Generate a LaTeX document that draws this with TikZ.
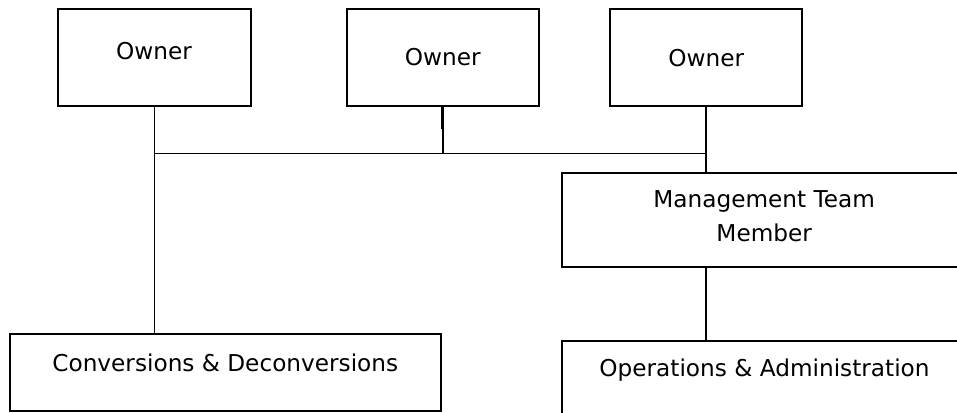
\documentclass[tikz,border=0pt]{standalone}
\usepackage{fontspec}
\setmainfont{DejaVu Sans}
\begin{document}
\begin{tikzpicture}[x=0.75pt,y=-0.75pt,
  box/.style={draw=black,line width=1.5pt,fill=none,inner sep=0pt,rectangle},
  lbl/.style={inner sep=0pt,anchor=base,font=\fontsize{17.4pt}{25pt}\selectfont,align=center},
  conn/.style={draw=black,line width=1.4pt},
  stub/.style={draw=black,line width=2.2pt}]
\useasboundingbox (0,0) rectangle (957,413);
% boxes
\node[box,minimum width=192.4*0.75pt,minimum height=96.7*0.75pt] (o1) at (154.5,57.7) {};
\node[box,minimum width=192.4*0.75pt,minimum height=96.7*0.75pt] (o2) at (442.8,57.7) {};
\node[box,minimum width=192.4*0.75pt,minimum height=96.7*0.75pt] (o3) at (706.2,57.7) {};
\node[box,minimum width=405*0.75pt,minimum height=93.4*0.75pt] (mg) at (764.2,220) {};
\node[box,minimum width=405*0.75pt,minimum height=100*0.75pt] (op) at (764.2,391) {};
\node[box,minimum width=431*0.75pt,minimum height=76.4*0.75pt] (cv) at (225.5,372.5) {};
% labels
\node[lbl] (t1) at (154,60) {Owner};
\node[lbl] (t2) at (442.8,66) {Owner};
\node[lbl] (t3) at (706.2,66.5) {Owner};
\node[lbl] (tm1) at (764.2,207.3) {Management Team};
\node[lbl] (tm2) at (764.2,241.7) {Member};
\node[lbl] (tc) at (225.3,371.7) {Conversions \& Deconversions};
\node[lbl] (to) at (764.5,376.7) {Operations \& Administration};
% connectors
\coordinate (j1) at (o1.south |- 0,153.5);
\coordinate (j2) at (o2.south |- 0,153.5);
\coordinate (j3) at (o3.south |- 0,153.5);
\coordinate (s2) at (o2.south |- 0,129);
\draw[conn] (o1.south) -- (j1);
\draw[conn] (j1) -- (cv.north -| j1);
\draw[conn] (j1) -- (j3);
\draw[stub] (o2.south) -- (s2);
\draw[conn] (s2) -- (j2);
\draw[conn] (o3.south) -- (j3);
\draw[conn] (j3) -- (mg.north -| j3);
\draw[conn] (mg.south -| j3) -- (op.north -| j3);
\end{tikzpicture}
\end{document}
